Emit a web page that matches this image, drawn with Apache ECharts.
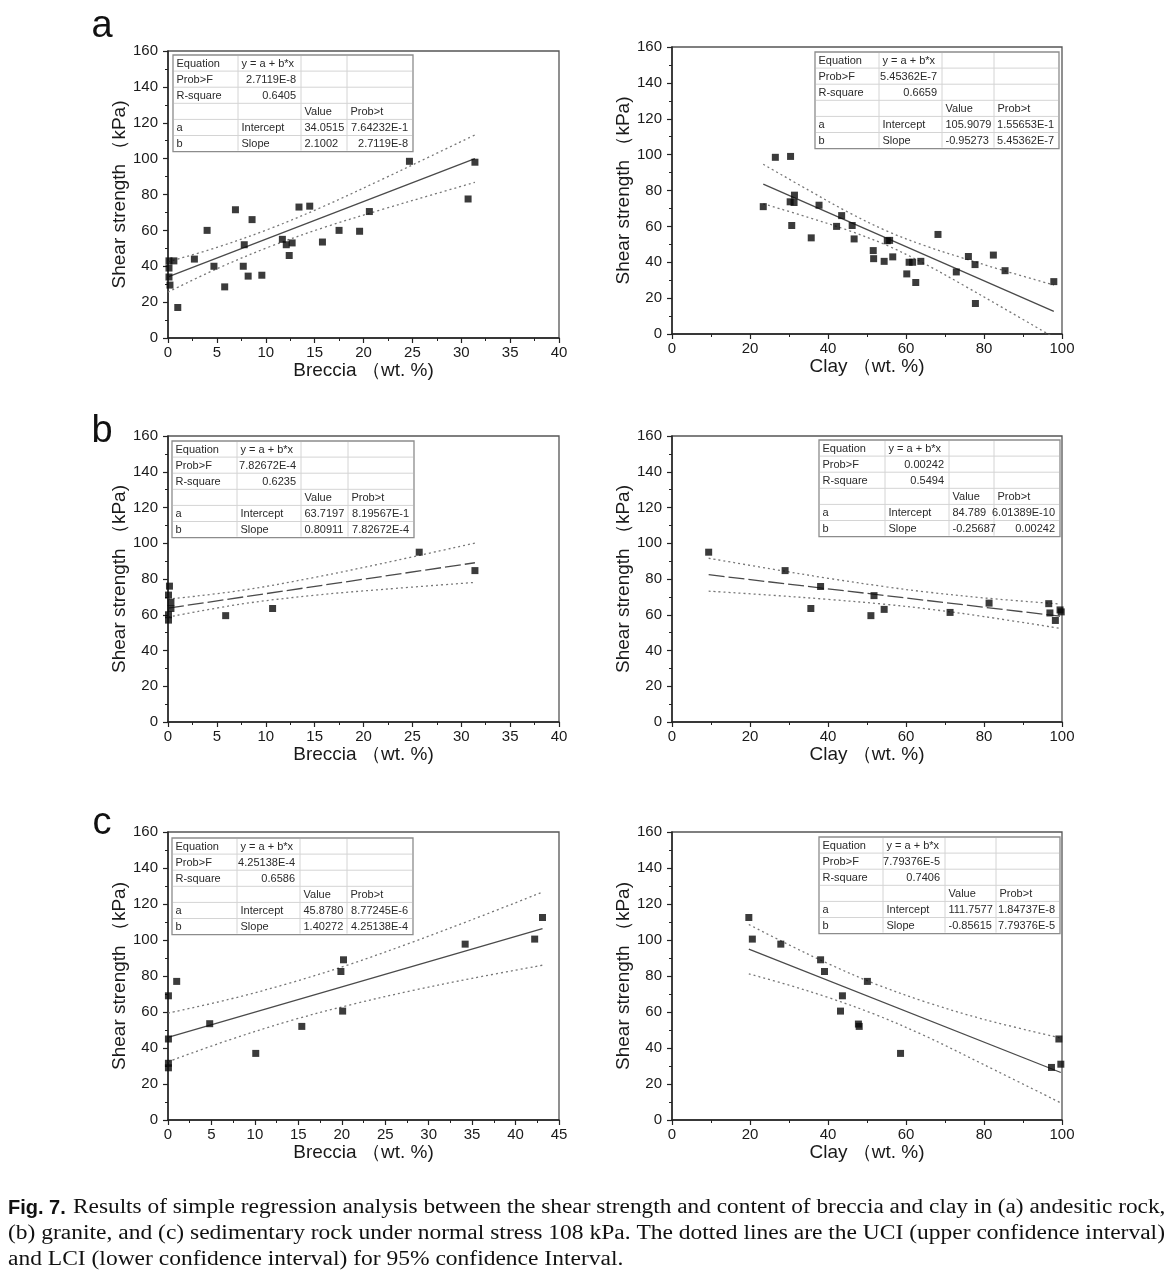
<!DOCTYPE html>
<html><head><meta charset="utf-8">
<script src="https://cdn.jsdelivr.net/npm/echarts/dist/echarts.min.js"></script>
<style>html,body{margin:0;padding:0;background:#fff}#c{width:1174px;height:1282px}</style>
</head><body><div id="c"></div>
<script>
// ---------------- DATA ----------------
// (a) andesitic rock
const aBrecciaPts = [[0.1,43],[0.1,39],[0.1,34],[0.2,29.5],[0.6,43],[1.0,17],[2.7,44],[4.0,60],[4.7,40],[5.8,28.5],[6.9,71.5],[7.7,40],[7.8,52],[8.2,34.5],[8.6,66],[9.6,35],[11.7,55],[12.1,52],[12.4,46],[12.7,53],[13.4,73],[14.5,73.5],[15.8,53.5],[17.5,60],[19.6,59.5],[20.6,70.5],[24.7,98.5],[30.7,77.5],[31.4,98]];
const aBrecciaFit = [[0,34.05],[31.4,100]];
const aBrecciaUCI = [[0,42.5],[5,50.5],[10.5,61.1],[16,73.6],[22,88.7],[27,101.7],[31.4,113.2]];
const aBrecciaLCI = [[0,25.6],[5,38.6],[10.5,51.1],[16,61.7],[22,71.8],[27,79.8],[31.4,86.8]];
const aBrecciaStats = ['2.7119E-8','0.6405','34.0515','7.64232E-1','2.1002','2.7119E-8'];

const aClayPts = [[23.4,71],[26.5,98.5],[30.4,99],[30.3,73.7],[31.3,73.3],[31.4,77.4],[30.7,60.5],[35.7,53.6],[37.7,71.8],[42.2,60],[43.5,66],[46.2,60.5],[46.7,53],[51.6,46.5],[51.7,42],[54.4,40.5],[55.2,52],[55.8,52.2],[56.6,43],[60.2,33.5],[60.8,40],[61.7,40],[62.5,28.7],[63.8,40.5],[68.2,55.5],[72.9,34.6],[76,43.2],[77.7,38.7],[77.8,17],[82.4,44],[85.4,35.3],[97.9,29.2]];
const aClayFit = [[23.4,83.6],[97.9,12.6]];
const aClayUCI = [[23.4,94.6],[35,80.2],[45,68.1],[55,57.5],[65,49.1],[75,42.05],[85,35.4],[97.9,27.3]];
const aClayLCI = [[23.4,72.6],[35,65],[45,57.9],[55,49.5],[65,38.9],[75,26.85],[85,14.4],[97.9,-1.9]];
const aClayStats = ['5.45362E-7','0.6659','105.9079','1.55653E-1','-0.95273','5.45362E-7'];

// (b) granite
const bBrecciaPts = [[0.15,76],[0.05,71],[0.3,67],[0.3,63.5],[0.05,60],[0.05,57],[5.9,59.5],[10.7,63.5],[25.7,95],[31.4,84.7]];
const bBrecciaFit = [[0,63.7],[31.4,89.1]];
const bBrecciaUCI = [[0,68.7],[7.5,73.6],[15,80.9],[22,88.8],[31.4,100.1]];
const bBrecciaLCI = [[0,58.7],[7.5,66],[15,70.9],[22,74.2],[31.4,78.1]];
const bBrecciaStats = ['7.82672E-4','0.6235','63.7197','8.19567E-1','0.80911','7.82672E-4'];

const bClayPts = [[9.4,95],[29,84.7],[35.6,63.5],[38.1,75.8],[51,59.5],[51.8,70.7],[54.4,63],[71.3,61.3],[81.3,66.5],[96.6,66.2],[96.9,61],[98.3,56.8],[99.5,62.7],[99.8,61.6]];
const bClayFit = [[9.4,82.4],[99.5,59.2]];
const bClayUCI = [[9.4,91.6],[25,85.8],[40,80.4],[55,75.6],[65,72.8],[80,69.4],[99.5,66]];
const bClayLCI = [[9.4,73.2],[25,71],[40,68.6],[55,65.8],[65,63.4],[80,59],[99.5,52.4]];
const bClayStats = ['0.00242','0.5494','84.789','6.01389E-10','-0.25687','0.00242'];

// (c) sedimentary rock
const cBrecciaPts = [[0.05,69],[0.05,45],[0.05,31.5],[0.05,29],[1.0,77],[4.8,53.5],[10.1,37],[15.4,52],[19.9,82.5],[20.2,89],[20.1,60.5],[34.2,97.7],[42.2,100.5],[43.1,112.5]];
const cBrecciaFit = [[0,45.9],[43.1,106.3]];
const cBrecciaUCI = [[0,59.4],[7,67],[14.1,76.2],[21,86.6],[28,98.6],[35,111.3],[43.1,126.6]];
const cBrecciaLCI = [[0,32.4],[7,44.4],[14.1,55.2],[21,64],[28,71.8],[35,78.7],[43.1,86]];
const cBrecciaStats = ['4.25138E-4','0.6586','45.8780','8.77245E-6','1.40272','4.25138E-4'];

const cClayPts = [[19.7,112.5],[20.6,100.5],[27.9,97.7],[38.1,89],[39.1,82.5],[43.7,69],[43.2,60.5],[47.8,53.3],[48,52],[50.1,77],[58.6,37],[97.3,29.2],[99.2,45],[99.7,31]];
const cClayFit = [[19.7,94.9],[99.7,26.4]];
const cClayUCI = [[19.7,108.6],[30,97.3],[40,86.9],[52,75.7],[65,65.6],[80,55.9],[99.7,45.5]];
const cClayLCI = [[19.7,81.2],[30,74.9],[40,68.1],[52,58.7],[65,46.6],[80,30.7],[99.7,9.5]];
const cClayStats = ['7.79376E-5','0.7406','111.7577','1.84737E-8','-0.85615','7.79376E-5'];

// Text
const panelLetters = ['a','b','c'];
const yTitle = 'Shear strength （kPa)';
const xTitleBreccia = 'Breccia （wt. %)';
const xTitleClay = 'Clay （wt. %)';
const tableRowLabels = ['Equation','Prob>F','R-square','','a','b'];
const tableEquation = 'y = a + b*x';
const tableHeads = ['Value','Prob>t'];
const tableParams = ['Intercept','Slope'];
const captionLines = [
  'Results of simple regression analysis between the shear strength and content of breccia and clay in (a) andesitic rock,',
  '(b) granite, and (c) sedimentary rock under normal stress 108 kPa. The dotted lines are the UCI (upper confidence interval)',
  'and LCI (lower confidence interval) for 95% confidence Interval.'
];
const captionLabel = 'Fig. 7.';

// ---------------- LAYOUT ----------------
const FONT = '"Liberation Sans", Arial, sans-serif';
const SERIF = '"Liberation Serif","Times New Roman",serif';
const INK = '#1a1a1a';
const ROW_H = 16.1;
const panels = [
  {grid:{left:168,top:51,width:391,height:287}, xMax:40, xInt:5, xName:xTitleBreccia, pts:aBrecciaPts, fit:aBrecciaFit, uci:aBrecciaUCI, lci:aBrecciaLCI, dash:false, stats:aBrecciaStats, tbl:{x:173,y:55,cols:[65,63,46,66]}},
  {grid:{left:672,top:47,width:390,height:287}, xMax:100, xInt:20, xName:xTitleClay, pts:aClayPts, fit:aClayFit, uci:aClayUCI, lci:aClayLCI, dash:false, stats:aClayStats, tbl:{x:815,y:52,cols:[64,63,52,65]}},
  {grid:{left:168,top:436,width:391,height:286}, xMax:40, xInt:5, xName:xTitleBreccia, pts:bBrecciaPts, fit:bBrecciaFit, uci:bBrecciaUCI, lci:bBrecciaLCI, dash:true, stats:bBrecciaStats, tbl:{x:172,y:441,cols:[65,64,47,66]}},
  {grid:{left:672,top:436,width:390,height:286}, xMax:100, xInt:20, xName:xTitleClay, pts:bClayPts, fit:bClayFit, uci:bClayUCI, lci:bClayLCI, dash:true, stats:bClayStats, tbl:{x:819,y:440,cols:[66,64,45,66]}},
  {grid:{left:168,top:832,width:391,height:288}, xMax:45, xInt:5, xName:xTitleBreccia, pts:cBrecciaPts, fit:cBrecciaFit, uci:cBrecciaUCI, lci:cBrecciaLCI, dash:false, stats:cBrecciaStats, tbl:{x:172,y:838,cols:[65,63,47,66]}},
  {grid:{left:672,top:832,width:390,height:288}, xMax:100, xInt:20, xName:xTitleClay, pts:cClayPts, fit:cClayFit, uci:cClayUCI, lci:cClayLCI, dash:false, stats:cClayStats, tbl:{x:819,y:837,cols:[64,62,51,64]}}
];
const letterPos = [[102,27],[102,432],[102,824]];

function axisCommon(){
  return {
    axisLine:{show:true,onZero:false,lineStyle:{color:'#222',width:1.5}},
    axisTick:{show:true,inside:false,length:5,lineStyle:{color:'#222',width:1.2}},
    minorTick:{show:true,splitNumber:2,length:3,lineStyle:{color:'#222',width:1}},
    splitLine:{show:false}
  };
}

const grids=[], xAxes=[], yAxes=[], series=[], graphics=[];
panels.forEach((p,i)=>{
  grids.push(Object.assign({show:true,borderColor:'#555',borderWidth:1.3,backgroundColor:'transparent',containLabel:false}, p.grid));
  xAxes.push(Object.assign(axisCommon(),{
    type:'value', gridIndex:i, min:0, max:p.xMax, interval:p.xInt,
    axisLabel:{fontSize:15,color:INK,fontFamily:FONT,margin:7},
    name:p.xName, nameLocation:'middle', nameGap:21,
    nameTextStyle:{fontSize:19,color:INK,fontFamily:FONT,verticalAlign:'top'}
  }));
  yAxes.push(Object.assign(axisCommon(),{
    type:'value', gridIndex:i, min:0, max:160, interval:20,
    axisLabel:{fontSize:15,color:INK,fontFamily:FONT,margin:10},
    name:yTitle, nameLocation:'middle', nameGap:37,
    nameTextStyle:{fontSize:19,color:INK,fontFamily:FONT,verticalAlign:'bottom'}
  }));
  const band = {type:'line', xAxisIndex:i, yAxisIndex:i, symbol:'none', smooth:0.35, clip:true, silent:true,
    lineStyle:{color:'#777',width:1.3,type:[2,3]}, z:2};
  series.push(Object.assign({}, band, {data:p.uci}));
  series.push(Object.assign({}, band, {data:p.lci}));
  series.push({type:'line', xAxisIndex:i, yAxisIndex:i, symbol:'none', clip:true, silent:true, data:p.fit,
    lineStyle:{color:'#4a4a4a',width:1.3,type:p.dash?[16,4]:'solid'}, z:3});
  series.push({type:'scatter', xAxisIndex:i, yAxisIndex:i, symbol:'rect', symbolSize:7, data:p.pts,
    itemStyle:{color:'#0a0a0a'}, z:4});

  // regression table
  const t = p.tbl, xs=[t.x];
  t.cols.forEach(c=>xs.push(xs[xs.length-1]+c));
  const W = xs[4]-xs[0], H = ROW_H*6;
  graphics.push({type:'rect', z:50, shape:{x:t.x,y:t.y,width:W,height:H}, style:{fill:'#fff',stroke:'#8c8c8c',lineWidth:1.3}});
  for(let r=1;r<6;r++){
    graphics.push({type:'line', z:51, shape:{x1:xs[0]+1,y1:t.y+r*ROW_H,x2:xs[4]-1,y2:t.y+r*ROW_H}, style:{stroke:'#d4d4d4',lineWidth:1}});
  }
  for(let c=1;c<4;c++){
    graphics.push({type:'line', z:51, shape:{x1:xs[c],y1:t.y+1,x2:xs[c],y2:t.y+H-1}, style:{stroke:'#d4d4d4',lineWidth:1}});
  }
  const cells = [];
  tableRowLabels.forEach((s,r)=>{ if(s) cells.push([r,0,s,'left']); });
  cells.push([0,1,tableEquation,'left']);
  cells.push([1,1,p.stats[0],'right']);
  cells.push([2,1,p.stats[1],'right']);
  cells.push([3,2,tableHeads[0],'left']);
  cells.push([3,3,tableHeads[1],'left']);
  cells.push([4,1,tableParams[0],'left']);
  cells.push([5,1,tableParams[1],'left']);
  cells.push([4,2,p.stats[2],'left']);
  cells.push([4,3,p.stats[3],'right']);
  cells.push([5,2,p.stats[4],'left']);
  cells.push([5,3,p.stats[5],'right']);
  cells.forEach(([r,c,s,al])=>{
    const x = al==='left' ? xs[c]+3.5 : xs[c+1]-5;
    graphics.push({type:'text', z:52, x:x, y:t.y+r*ROW_H+ROW_H/2+0.5,
      style:{text:s, fill:'#2a2a2a', fontSize:11, fontFamily:FONT, align:al, verticalAlign:'middle'}});
  });
});

panelLetters.forEach((s,i)=>{
  graphics.push({type:'text', z:60, x:letterPos[i][0], y:letterPos[i][1],
    style:{text:s, fill:'#111', fontSize:38, fontFamily:FONT, align:'center', verticalAlign:'middle'}});
});

// caption
const capY = [1208, 1234, 1260];
const capX = [73, 8, 8];
const capSX = [1.166, 1.175, 1.175];
graphics.push({type:'text', z:60, x:8, y:capY[0],
  style:{text:captionLabel, fontSize:20, fontWeight:'bold', fontFamily:FONT, fill:'#111', align:'left', verticalAlign:'middle'}});
captionLines.forEach((s,i)=>{
  graphics.push({type:'text', z:60, x:capX[i], y:capY[i], scaleX:capSX[i],
    style:{text:s, fontSize:20, fontFamily:SERIF, fill:'#111', align:'left', verticalAlign:'middle'}});
});

const chart = echarts.init(document.getElementById('c'), null, {renderer:'canvas'});
chart.setOption({
  animation:false,
  backgroundColor:'#fff',
  grid:grids, xAxis:xAxes, yAxis:yAxes, series:series,
  graphic:{elements:graphics}
});
</script></body></html>
